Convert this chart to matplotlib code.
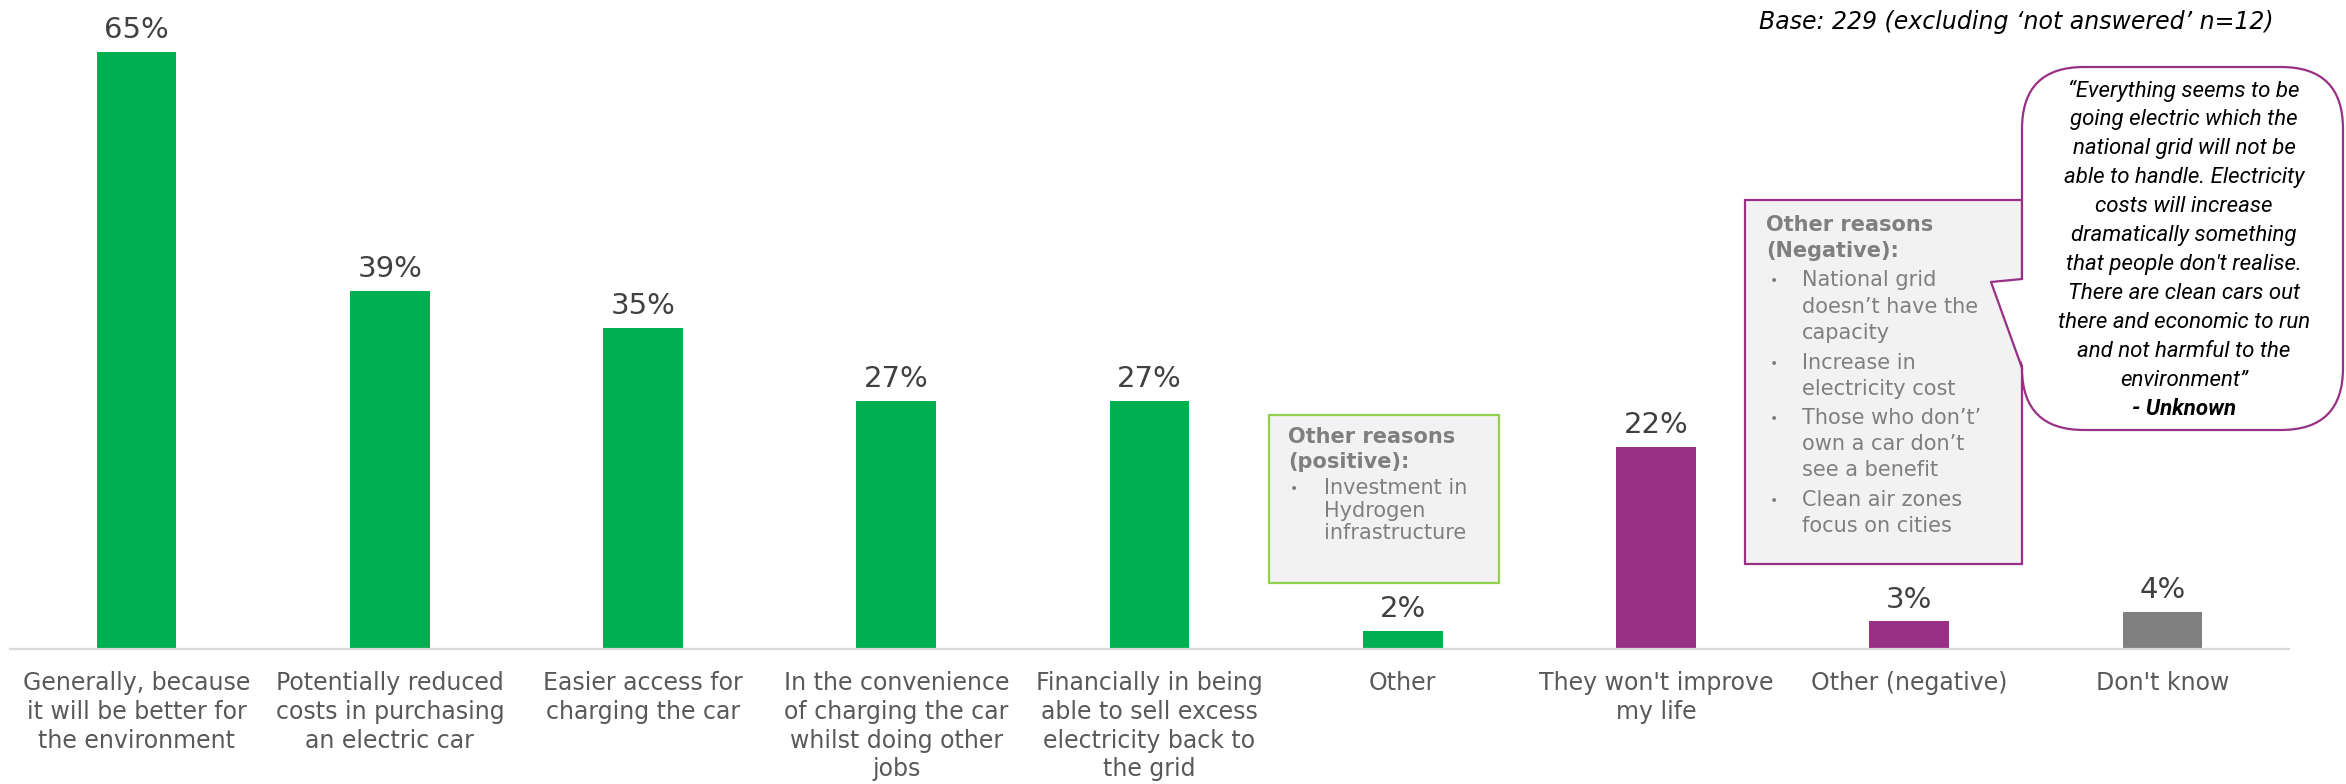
import matplotlib.pyplot as plt
from matplotlib.patches import Rectangle, FancyBboxPatch, Polygon
import numpy as np

# Reasons given and share of respondents (%)
categories = [
    "Generally, because\nit will be better for\nthe environment",
    "Potentially reduced\ncosts in purchasing\nan electric car",
    "Easier access for\ncharging the car",
    "In the convenience\nof charging the car\nwhilst doing other\njobs",
    "Financially in being\nable to sell excess\nelectricity back to\nthe grid",
    "Other",
    "They won't improve\nmy life",
    "Other (negative)",
    "Don't know",
]
values = [65, 39, 35, 27, 27, 2, 22, 3, 4]
groups = ["pos", "pos", "pos", "pos", "pos", "pos", "neg", "neg", "dk"]

base_note = "Base: 229 (excluding \u2018not answered\u2019 n=12)"
pos_title = ["Other reasons", "(positive):"]
pos_items = [["Investment in", "Hydrogen", "infrastructure"]]
neg_title = ["Other reasons", "(Negative):"]
neg_items = [
    ["National grid", "doesn\u2019t have the", "capacity"],
    ["Increase in", "electricity cost"],
    ["Those who don\u2019t\u2019", "own a car don\u2019t", "see a benefit"],
    ["Clean air zones", "focus on cities"],
]
quote_lines = [
    "\u201cEverything seems to be",
    "going electric which the",
    "national grid will not be",
    "able to handle. Electricity",
    "costs will increase",
    "dramatically something",
    "that people don't realise.",
    "There are clean cars out",
    "there and economic to run",
    "and not harmful to the",
    "environment\u201d",
]
quote_author = "- Unknown"

GREEN = "#00B050"
PURPLE = "#983086"
GREY = "#808080"
colour_map = {"pos": GREEN, "neg": PURPLE, "dk": GREY}
BOX_TEXT = "#7F7F7F"

W, H = 2346, 784
fig = plt.figure(figsize=(W / 100, H / 100), dpi=100)

ax = fig.add_axes([10 / W, (H - 649) / H, 2279 / W, 649 / H])
x = np.arange(len(values))
ax.bar(x, values, width=0.315, color=[colour_map[g] for g in groups], zorder=2)
ax.set_xlim(-0.5, len(values) - 0.5)
ax.set_ylim(0, 70.7)
for v, xi in zip(values, x):
    ax.annotate(f"{v}%", (xi, v), xytext=(0, 10), textcoords="offset points",
                ha="center", va="baseline", fontsize=21, color="#404040")

for s in ["top", "left", "right"]:
    ax.spines[s].set_visible(False)
ax.spines["bottom"].set_color("#D9D9D9")
ax.spines["bottom"].set_linewidth(1.6)
ax.set_yticks([])
ax.set_xticks(x)
ax.set_xticklabels(categories, fontsize=17, color="#595959", linespacing=1.25)
ax.tick_params(axis="x", length=0, pad=16)
ax.patch.set_visible(False)

# overlay in pixel coordinates for the call-outs
ov = fig.add_axes([0, 0, 1, 1], zorder=5)
ov.set_xlim(0, W)
ov.set_ylim(H, 0)
ov.axis("off")
ov.patch.set_visible(False)

ov.text(2274, 22, base_note, ha="right", va="center", fontsize=17,
        style="italic", color="#000000")


def box_text(title, items, x_title, x_bullet, x_item, y_title, y_items):
    for t, y in zip(title, y_title):
        ov.text(x_title, y + 8, t, fontsize=15, fontweight="bold",
                color=BOX_TEXT, va="baseline", ha="left")
    k = 0
    for item in items:
        ov.text(x_bullet, y_items[k] + 6, "\u2022", fontsize=10,
                color=BOX_TEXT, va="baseline", ha="left")
        for line in item:
            ov.text(x_item, y_items[k] + 7, line, fontsize=15,
                    color=BOX_TEXT, va="baseline", ha="left")
            k += 1


# positive reasons box
ov.add_patch(Rectangle((1269, 415), 230, 168, facecolor="#F2F2F2",
                       edgecolor="#92D050", lw=1.6))
box_text(pos_title, pos_items, 1288, 1290, 1324, [435, 460], [487, 510, 532])

# negative reasons box
ov.add_patch(Rectangle((1745, 200), 277, 364, facecolor="#F2F2F2",
                       edgecolor=PURPLE, lw=1.6))
box_text(neg_title, neg_items, 1766, 1770, 1802, [223, 249],
         [279, 306, 332, 362, 388, 417, 443, 469, 499, 525])

# speech bubble with quote
ov.add_patch(FancyBboxPatch((2022, 67), 321, 363,
                            boxstyle="round,pad=0,rounding_size=62",
                            facecolor="white", edgecolor=PURPLE, lw=1.6, zorder=3))
ov.add_patch(Polygon([(2024, 279), (1991, 282), (2024, 368)], closed=True,
                     facecolor="white", edgecolor="none", zorder=4))
ov.plot([2022, 1991, 2022], [279, 282, 368], color=PURPLE, lw=1.6, zorder=5)

for i, line in enumerate(quote_lines):
    ov.text(2184, 91 + i * 28.9, line, fontsize=16, family="Roboto",
            style="italic", ha="center", va="center", color="#000000", zorder=6)
ov.text(2184, 91 + len(quote_lines) * 28.9, quote_author, fontsize=16,
        family="Roboto", style="italic", fontweight="bold", ha="center",
        va="center", color="#000000", zorder=6)

fig.savefig("out.png", dpi=100)
